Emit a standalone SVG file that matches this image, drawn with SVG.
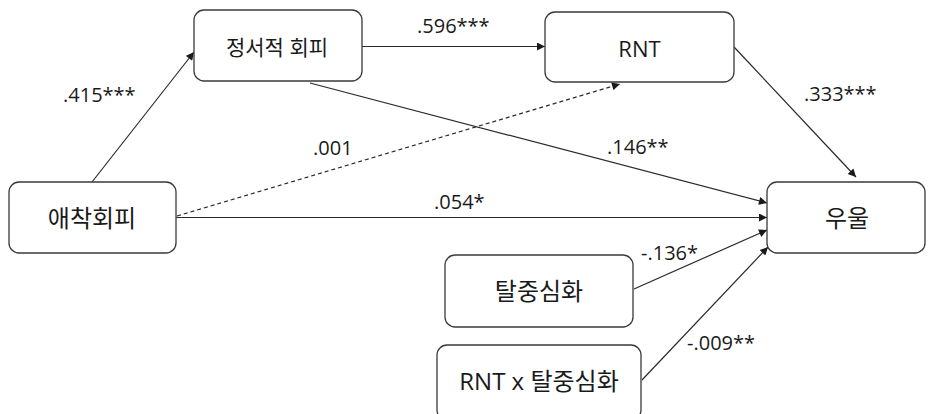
<svg xmlns="http://www.w3.org/2000/svg" width="936" height="414" viewBox="0 0 936 414">
<style>
.box{fill:#fff;stroke:#3a3a3a;stroke-width:1.3}
.t{font-family:"Open Sans","Noto Sans CJK KR",sans-serif;fill:#1a1a1a;text-anchor:middle}
.n{font-size:24px}
.l{font-family:"Open Sans","Noto Sans CJK KR",sans-serif;fill:#1a1a1a;font-size:20px}
.c{stroke:#2a2a2a;stroke-width:1.2;fill:none;marker-end:url(#ah)}
.d{stroke-dasharray:4 3}
</style>
<defs>
<marker id="ah" viewBox="0 0 10 10" refX="10" refY="5" markerWidth="9" markerHeight="8" markerUnits="userSpaceOnUse" orient="auto">
<path d="M0,0 L10,5 L0,10 z" fill="#1a1a1a"/>
</marker>
</defs>
<g id="connectors">
<line class="c" x1="92" y1="182" x2="194" y2="52"/>
<line class="c" x1="362" y1="46.5" x2="545" y2="46.5"/>
<line class="c" x1="310" y1="83" x2="767" y2="203"/>
<line class="c d" x1="177" y1="216" x2="620" y2="84"/>
<line class="c" x1="176" y1="217.5" x2="767" y2="217.5"/>
<line class="c" x1="734" y1="47" x2="856" y2="177"/>
<line class="c" x1="634" y1="289" x2="767" y2="230"/>
<line class="c" x1="642" y1="380" x2="768" y2="247"/>
</g>
<g id="labels">
<text class="l" x="63" y="102">.415***</text>
<text class="l" x="417" y="33">.596***</text>
<text class="l" x="313" y="155">.001</text>
<text class="l" x="804" y="101">.333***</text>
<text class="l" x="607" y="154">.146**</text>
<text class="l" x="434" y="209">.054*</text>
<text class="l" x="641" y="260">-.136*</text>
<text class="l" x="687" y="350">-.009**</text>
</g>
<g id="node-emotional-avoidance">
<rect class="box" x="194" y="10" width="168" height="71" rx="10"/>
<text class="t" x="277" y="55" font-size="21">정서적 회피</text>
</g>
<g id="node-rnt">
<rect class="box" x="545" y="12" width="189" height="70" rx="10"/>
<text class="t" x="639.5" y="57" font-size="22">RNT</text>
</g>
<g id="node-attachment-avoidance">
<rect class="box" x="9" y="182" width="167" height="71" rx="10"/>
<text class="t n" x="92" y="227">애착회피</text>
</g>
<g id="node-depression">
<rect class="box" x="767" y="182" width="158" height="71" rx="10"/>
<text class="t n" x="847" y="227">우울</text>
</g>
<g id="node-decentering">
<rect class="box" x="445" y="255" width="188" height="72" rx="10"/>
<text class="t n" x="539" y="300">탈중심화</text>
</g>
<g id="node-rnt-x-decentering">
<rect class="box" x="437" y="345" width="204" height="75" rx="10"/>
<text class="t n" x="539" y="390">RNT x 탈중심화</text>
</g>
</svg>
